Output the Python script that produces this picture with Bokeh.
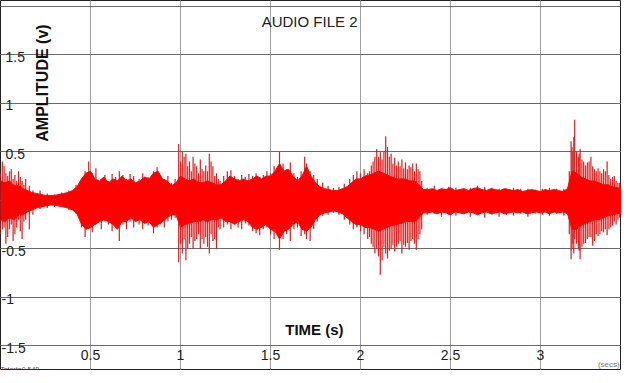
from bokeh.plotting import figure
from bokeh.models import Range1d, Grid, FixedTicker, ColumnDataSource, Label
from bokeh.core.properties import value
from bokeh.embed import file_html
from bokeh.resources import INLINE
import math

# ---- data ----
# dense core envelope of the waveform, sampled every 0.025 s from 0 to 3.45 s
ENV_STEP = 0.025
env_upper = [0.20, 0.18, 0.20, 0.15, 0.15, 0.12, 0.10, 0.08, 0.07, 0.06,
             0.05, 0.05, 0.05, 0.06, 0.07, 0.08, 0.10, 0.14, 0.22, 0.28,
             0.30, 0.22, 0.20, 0.24, 0.18, 0.22, 0.20, 0.25, 0.20, 0.22,
             0.18, 0.20, 0.24, 0.22, 0.28, 0.30, 0.22, 0.20, 0.15, 0.18,
             0.25, 0.22, 0.20, 0.22, 0.18, 0.18, 0.20, 0.18, 0.16, 0.16,
             0.20, 0.25, 0.22, 0.20, 0.22, 0.20, 0.22, 0.25, 0.22, 0.25,
             0.25, 0.30, 0.38, 0.30, 0.32, 0.25, 0.20, 0.25, 0.35, 0.25,
             0.18, 0.14, 0.12, 0.11, 0.10, 0.10, 0.12, 0.14, 0.18, 0.22,
             0.22, 0.25, 0.26, 0.28, 0.30, 0.28, 0.26, 0.24, 0.22, 0.22,
             0.22, 0.20, 0.20, 0.16, 0.11,
             0.11, 0.12, 0.10, 0.12, 0.11, 0.13, 0.10, 0.11, 0.12, 0.10,
             0.12, 0.13, 0.11, 0.10, 0.12, 0.11, 0.10, 0.12, 0.11, 0.10,
             0.11, 0.09, 0.10, 0.11, 0.10, 0.09, 0.11, 0.10, 0.11, 0.10,
             0.09, 0.12,
             0.30, 0.28, 0.24, 0.22, 0.20, 0.20, 0.18, 0.16, 0.16, 0.14,
             0.13, 0.12]
env_lower = [-0.20, -0.22, -0.18, -0.20, -0.15, -0.15, -0.12, -0.10, -0.08, -0.07,
             -0.06, -0.05, -0.05, -0.06, -0.07, -0.08, -0.10, -0.14, -0.25, -0.30,
             -0.28, -0.25, -0.22, -0.20, -0.22, -0.25, -0.30, -0.22, -0.22, -0.18,
             -0.22, -0.20, -0.24, -0.22, -0.28, -0.25, -0.22, -0.18, -0.15, -0.15,
             -0.28, -0.25, -0.24, -0.22, -0.22, -0.20, -0.22, -0.20, -0.20, -0.18,
             -0.22, -0.22, -0.25, -0.22, -0.20, -0.22, -0.28, -0.30, -0.28, -0.25,
             -0.30, -0.32, -0.40, -0.32, -0.30, -0.25, -0.22, -0.30, -0.32, -0.28,
             -0.20, -0.15, -0.13, -0.12, -0.11, -0.12, -0.14, -0.18, -0.22, -0.25,
             -0.25, -0.28, -0.28, -0.30, -0.32, -0.30, -0.28, -0.26, -0.25, -0.24,
             -0.22, -0.22, -0.22, -0.18, -0.13,
             -0.13, -0.12, -0.14, -0.12, -0.13, -0.15, -0.12, -0.13, -0.14, -0.12,
             -0.13, -0.15, -0.13, -0.12, -0.14, -0.13, -0.12, -0.14, -0.13, -0.12,
             -0.13, -0.12, -0.14, -0.13, -0.12, -0.13, -0.12, -0.14, -0.12, -0.13,
             -0.12, -0.14,
             -0.30, -0.30, -0.26, -0.24, -0.22, -0.20, -0.20, -0.18, -0.16, -0.15,
             -0.14, -0.13]
env_t = [round(i * ENV_STEP, 3) for i in range(len(env_upper))]

# individual oscillation peaks
spike_t = [0.01, 0.03, 0.06, 0.07, 0.10, 0.12, 0.14, 0.16, 0.18,
           0.22, 0.26, 0.30, 0.34, 0.38, 0.42,
           0.45, 0.47, 0.49, 0.51, 0.53, 0.56, 0.58, 0.60, 0.62, 0.64, 0.66, 0.68, 0.70, 0.72,
           0.74, 0.77, 0.79, 0.82, 0.85, 0.87, 0.89, 0.91, 0.93, 0.95, 0.97,
           0.99, 1.01, 1.03, 1.05, 1.07, 1.09, 1.11, 1.13, 1.16, 1.18, 1.20, 1.22,
           1.24, 1.26, 1.28, 1.30, 1.32, 1.34, 1.36, 1.38, 1.40, 1.42, 1.44, 1.46, 1.48,
           1.50, 1.52, 1.55, 1.57, 1.59, 1.61, 1.63, 1.65, 1.67, 1.69, 1.70, 1.72, 1.74, 1.76,
           1.79, 1.82, 1.85, 1.88, 1.91, 1.94, 1.96, 1.98,
           2.00, 2.02, 2.04, 2.06, 2.08, 2.09, 2.11, 2.12, 2.14, 2.15, 2.17, 2.19, 2.21, 2.23,
           2.25, 2.27, 2.29, 2.31, 2.33, 2.34,
           2.37, 2.41, 2.45, 2.49, 2.53, 2.57, 2.61, 2.65, 2.69, 2.73, 2.77, 2.81, 2.85, 2.89,
           2.93, 2.97, 3.01, 3.05, 3.09, 3.13,
           3.16, 3.17, 3.18, 3.19, 3.21, 3.22, 3.24, 3.26, 3.28, 3.29, 3.31, 3.32, 3.34, 3.36,
           3.37, 3.39, 3.41, 3.43, 3.45]
spike_top = [0.40, 0.28, 0.32, 0.22, 0.30, 0.20, 0.22, 0.15, 0.10,
             0.10, 0.07, 0.06, 0.08, 0.10, 0.16,
             0.22, 0.30, 0.40, 0.28, 0.33, 0.22, 0.26, 0.20, 0.27, 0.24, 0.30, 0.26, 0.22, 0.27,
             0.25, 0.22, 0.28, 0.24, 0.30, 0.34, 0.26, 0.22, 0.25, 0.18, 0.22,
             0.58, 0.50, 0.48, 0.40, 0.45, 0.35, 0.42, 0.30, 0.48, 0.35, 0.28, 0.20,
             0.25, 0.30, 0.31, 0.25, 0.22, 0.26, 0.24, 0.27, 0.25, 0.28, 0.24, 0.26, 0.30,
             0.28, 0.35, 0.50, 0.38, 0.32, 0.39, 0.28, 0.24, 0.30, 0.45, 0.38, 0.30, 0.26, 0.22,
             0.18, 0.15, 0.13, 0.14, 0.17, 0.22, 0.26, 0.30,
             0.28, 0.32, 0.28, 0.36, 0.45, 0.53, 0.50, 0.42, 0.66, 0.55, 0.48, 0.44, 0.40, 0.42,
             0.39, 0.36, 0.38, 0.38, 0.30, 0.20,
             0.13, 0.15, 0.12, 0.14, 0.13, 0.12, 0.13, 0.15, 0.14, 0.13, 0.12, 0.12, 0.13, 0.12,
             0.12, 0.11, 0.12, 0.13, 0.12, 0.12,
             0.30, 0.61, 0.50, 0.83, 0.45, 0.53, 0.40, 0.39, 0.45, 0.35, 0.30, 0.33, 0.28, 0.30,
             0.40, 0.22, 0.25, 0.18, 0.20]
spike_bottom = [-0.30, -0.45, -0.25, -0.42, -0.20, -0.40, -0.20, -0.30, -0.15,
                -0.09, -0.08, -0.07, -0.07, -0.10, -0.14,
                -0.28, -0.38, -0.30, -0.33, -0.25, -0.30, -0.22, -0.25, -0.32, -0.28, -0.42, -0.25, -0.30, -0.22,
                -0.28, -0.25, -0.30, -0.26, -0.34, -0.28, -0.25, -0.28, -0.22, -0.20, -0.18,
                -0.64, -0.55, -0.62, -0.45, -0.50, -0.40, -0.50, -0.45, -0.55, -0.42, -0.50, -0.30,
                -0.28, -0.25, -0.30, -0.22, -0.28, -0.30, -0.24, -0.26, -0.32, -0.34, -0.36, -0.30, -0.28,
                -0.35, -0.40, -0.51, -0.40, -0.35, -0.42, -0.30, -0.28, -0.37, -0.35, -0.40, -0.42, -0.30, -0.22,
                -0.16, -0.15, -0.13, -0.15, -0.20, -0.25, -0.30, -0.28,
                -0.32, -0.35, -0.40, -0.45, -0.55, -0.50, -0.77, -0.62, -0.55, -0.60, -0.50, -0.53, -0.45, -0.55,
                -0.48, -0.51, -0.40, -0.51, -0.35, -0.30,
                -0.15, -0.14, -0.17, -0.15, -0.16, -0.14, -0.17, -0.15, -0.18, -0.15, -0.17, -0.15, -0.16, -0.14,
                -0.17, -0.14, -0.15, -0.16, -0.14, -0.16,
                -0.35, -0.61, -0.45, -0.40, -0.50, -0.61, -0.45, -0.40, -0.38, -0.47, -0.35, -0.37, -0.32, -0.30,
                -0.36, -0.28, -0.22, -0.20, -0.15]

# extra oscillation peaks inside the three loud bursts (~1.0 s, ~2.1 s, ~3.2 s) and the opening
burst_t = [0.00, 0.02, 0.04, 0.05, 0.08, 0.09, 0.11, 0.13,
           1.00, 1.02, 1.04, 1.06, 1.08, 1.10, 1.12, 1.14, 1.15, 1.17, 1.19, 1.21,
           2.05, 2.07, 2.10, 2.13, 2.16, 2.18, 2.20, 2.22, 2.24, 2.26, 2.28, 2.30, 2.32,
           3.175, 3.185, 3.20, 3.215, 3.23, 3.25, 3.27, 3.30, 3.33, 3.35, 3.38, 3.40, 3.42, 3.44]
burst_top = [0.28, 0.35, 0.25, 0.30, 0.26, 0.20, 0.24, 0.16,
             0.40, 0.45, 0.35, 0.30, 0.38, 0.28, 0.32, 0.36, 0.30, 0.40, 0.25, 0.22,
             0.30, 0.40, 0.45, 0.50, 0.45, 0.38, 0.36, 0.35, 0.33, 0.32, 0.34, 0.30, 0.32,
             0.55, 0.65, 0.50, 0.48, 0.42, 0.36, 0.40, 0.32, 0.30, 0.32, 0.26, 0.24, 0.20, 0.18]
burst_bottom = [-0.35, -0.28, -0.38, -0.30, -0.35, -0.28, -0.32, -0.22,
                -0.45, -0.40, -0.50, -0.38, -0.42, -0.35, -0.40, -0.38, -0.48, -0.35, -0.40, -0.28,
                -0.38, -0.48, -0.58, -0.48, -0.52, -0.46, -0.48, -0.42, -0.46, -0.44, -0.42, -0.45, -0.40,
                -0.50, -0.55, -0.45, -0.52, -0.48, -0.44, -0.38, -0.42, -0.35, -0.33, -0.30, -0.26, -0.25, -0.18]

x_ticks = [0.5, 1.0, 1.5, 2.0, 2.5, 3.0]
x_tick_labels = ["0.5", "1", "1.5", "2", "2.5", "3"]
y_grid = [-1.5, -1.0, -0.5, 0.0, 0.5, 1.0, 1.5, 2.0]
y_ticks = [1.5, 1.0, 0.5, -0.5, -1.0, -1.5]
y_tick_labels = ["1.5", "1", "0.5", "-0.5", "-1", "-1.5"]

FONT_NAME = "Liberation Sans"
FONT = value(FONT_NAME)

p = figure(width=621, height=374, output_backend="svg", toolbar_location=None,
           x_axis_location=None, y_axis_location=None,
           x_range=Range1d(0, 3.45), y_range=Range1d(-1.747, 2.062),
           min_border_left=0, min_border_right=0, min_border_top=0, min_border_bottom=5)
p.outline_line_color = "#222222"
p.outline_line_width = 1
p.background_fill_color = "white"
p.border_fill_color = "white"

p.add_layout(Grid(dimension=0, ticker=FixedTicker(ticks=x_ticks), grid_line_color="#a0a0a0", grid_line_width=1))
p.add_layout(Grid(dimension=1, ticker=FixedTicker(ticks=y_grid), grid_line_color="#6a6a6a", grid_line_width=1))

# waveform
p.segment(x0=burst_t, y0=burst_bottom, x1=burst_t, y1=burst_top, line_color="#ee1a1a", line_width=1.2)
p.segment(x0=spike_t, y0=spike_bottom, x1=spike_t, y1=spike_top, line_color="#d02222", line_width=1.2)
p.varea(x=env_t, y1=env_lower, y2=env_upper, fill_color="#ff0000")
p.line(x=env_t, y=env_upper, line_color="#e81010", line_width=1)
p.line(x=env_t, y=env_lower, line_color="#e81010", line_width=1)

# tick labels (drawn inside the frame, as in the reference)
xt_src = ColumnDataSource(dict(x=x_ticks, y=[-1.593] * len(x_ticks), text=x_tick_labels))
p.text(x="x", y="y", text="text", source=xt_src, text_font=FONT, text_font_size="14px",
       text_color="#222222", text_align="center", text_baseline="middle")

yt_x = [0.028 if v > 0 else 0.006 for v in y_ticks]
yt_src = ColumnDataSource(dict(x=yt_x, y=y_ticks, text=y_tick_labels))
p.text(x="x", y="y", text="text", source=yt_src, text_font=FONT, text_font_size="14px",
       text_color="#222222", text_align="left", text_baseline="middle", y_offset=2)

# titles
p.add_layout(Label(x=1.717, y=1.85, text="AUDIO FILE 2", text_font=FONT_NAME, text_font_size="15px",
                   text_color="#222222", text_align="center", text_baseline="middle"))
p.add_layout(Label(x=0.233, y=1.21, text="AMPLITUDE (v)", text_font=FONT_NAME, text_font_size="16px",
                   text_font_style="bold", text_color="#111111", angle=math.pi / 2,
                   text_align="center", text_baseline="middle"))
p.add_layout(Label(x=1.744, y=-1.335, text="TIME (s)", text_font=FONT_NAME, text_font_size="15px",
                   text_font_style="bold", text_color="#111111", text_align="center", text_baseline="middle"))
p.add_layout(Label(x=3.44, y=-1.70, text="(secs)", text_font=FONT_NAME, text_font_size="8px",
                   text_color="#777777", text_align="right", text_baseline="middle"))
p.add_layout(Label(x=0.0, y=-1.747, text="Tstart=0.548", text_font=FONT_NAME, text_font_size="7px",
                   text_color="#555555", text_align="left", text_baseline="middle"))

open("out.html", "w").write(file_html(p, INLINE))
